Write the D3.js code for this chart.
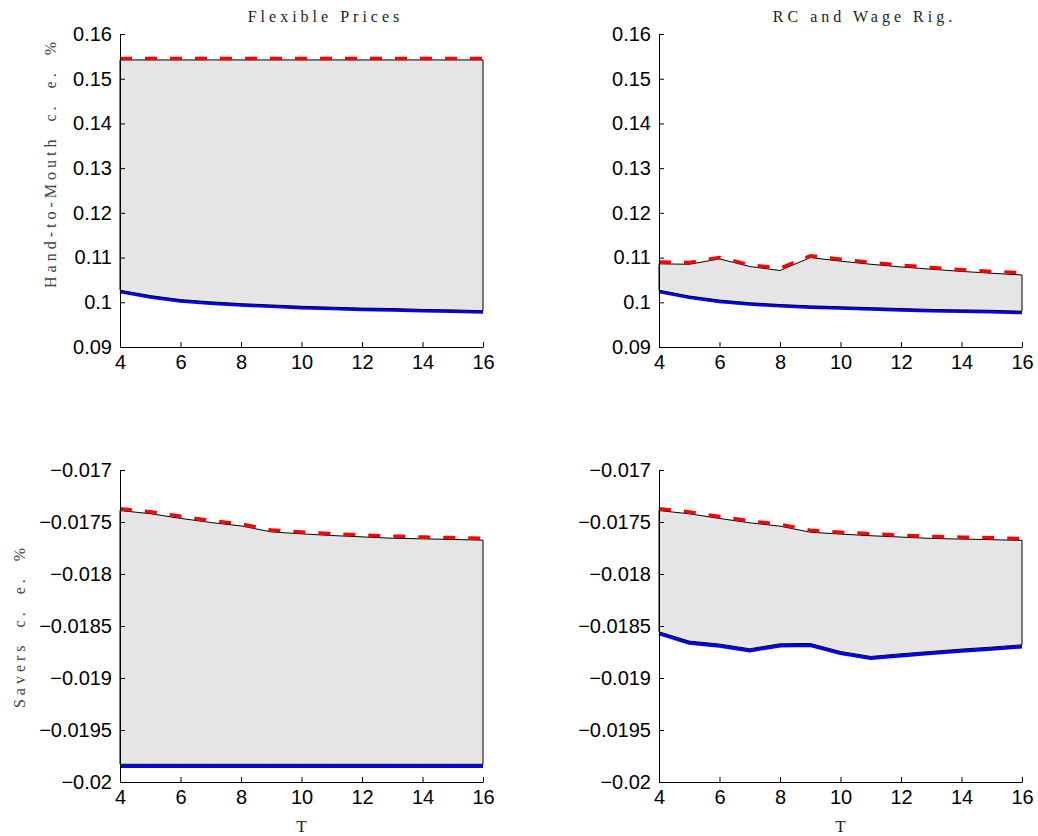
<!DOCTYPE html>
<html>
<head>
<meta charset="utf-8">
<script src="https://cdn.jsdelivr.net/npm/d3@7"></script>
<style>
  body { margin: 0; background: #fff; }
  .tick text { font-family: 'Liberation Sans', Arial, sans-serif; font-size: 20px; fill: #000; }
  .tick line, .domain { stroke: #000; stroke-width: 1; }
  .title, .xlabel, .ylabel { font-family: 'Liberation Serif', 'DejaVu Serif', serif; }
</style>
</head>
<body>
<svg id="chart" width="1038" height="836"></svg>
<script>
const T = [4, 5, 6, 7, 8, 9, 10, 11, 12, 13, 14, 15, 16]
const xTicks = [4, 6, 8, 10, 12, 14, 16]

// Hand-to-Mouth c. e. %, flexible prices
const htmFlexUpper = [0.1545, 0.1545, 0.1545, 0.1545, 0.1545, 0.1545, 0.1545, 0.1545, 0.1545, 0.1545, 0.1545, 0.1545, 0.1545]
const htmFlexFillTop = [0.1542, 0.1542, 0.1542, 0.1542, 0.1542, 0.1542, 0.1542, 0.1542, 0.1542, 0.1542, 0.1542, 0.1542, 0.1542]
const htmFlexFillBottom = [0.1027, 0.1015, 0.1006, 0.1001, 0.0997, 0.0994, 0.0991, 0.0989, 0.0987, 0.0986, 0.0984, 0.0983, 0.0981]
const htmFlexLower = [0.1024, 0.1012, 0.1003, 0.0998, 0.0994, 0.0991, 0.0988, 0.0986, 0.0984, 0.0983, 0.0981, 0.0980, 0.0978]

// Hand-to-Mouth c. e. %, RC and wage rigidity
const htmRigUpper = [0.1090, 0.1089, 0.1100, 0.1084, 0.1076, 0.1104, 0.1096, 0.1089, 0.1083, 0.1078, 0.1073, 0.1069, 0.1066]
const htmRigFillTop = [0.1086, 0.1085, 0.1097, 0.1080, 0.1071, 0.1100, 0.1092, 0.1085, 0.1079, 0.1074, 0.1069, 0.1065, 0.1061]
const htmRigFillBottom = [0.1027, 0.1014, 0.1005, 0.0999, 0.0995, 0.0992, 0.0990, 0.0988, 0.0986, 0.0984, 0.0983, 0.0982, 0.0980]
const htmRigLower = [0.1024, 0.1011, 0.1002, 0.0996, 0.0992, 0.0989, 0.0987, 0.0985, 0.0983, 0.0981, 0.0980, 0.0979, 0.0977]

// Savers c. e. %, flexible prices
const savFlexUpper = [-0.017372, -0.017401, -0.017445, -0.017487, -0.017519, -0.017577, -0.017596, -0.017612, -0.017625, -0.017638, -0.017644, -0.017650, -0.017657]
const savFlexFillTop = [-0.017390, -0.017420, -0.017465, -0.017505, -0.017538, -0.017595, -0.017614, -0.017630, -0.017643, -0.017656, -0.017662, -0.017668, -0.017675]
const savFlexFillBottom = [-0.01983, -0.01983, -0.01983, -0.01983, -0.01983, -0.01983, -0.01983, -0.01983, -0.01983, -0.01983, -0.01983, -0.01983, -0.01983]
const savFlexLower = [-0.019849, -0.019849, -0.019849, -0.019849, -0.019849, -0.019849, -0.019849, -0.019849, -0.019849, -0.019849, -0.019849, -0.019849, -0.019849]

// Savers c. e. %, RC and wage rigidity
const savRigUpper = [-0.017372, -0.017403, -0.017448, -0.017490, -0.017522, -0.017580, -0.017598, -0.017614, -0.017627, -0.017640, -0.017646, -0.017652, -0.017659]
const savRigFillTop = [-0.017390, -0.017421, -0.017466, -0.017508, -0.017540, -0.017598, -0.017616, -0.017632, -0.017645, -0.017658, -0.017664, -0.017670, -0.017677]
const savRigFillBottom = [-0.018556, -0.018645, -0.018674, -0.018719, -0.018671, -0.018668, -0.018745, -0.018793, -0.018767, -0.018745, -0.018722, -0.018703, -0.018681]
const savRigLower = [-0.018574, -0.018663, -0.018692, -0.018737, -0.018689, -0.018686, -0.018763, -0.018811, -0.018785, -0.018763, -0.018740, -0.018721, -0.018699]

const htmTicks = [0.09, 0.10, 0.11, 0.12, 0.13, 0.14, 0.15, 0.16]
const htmTickLabels = ['0.09', '0.1', '0.11', '0.12', '0.13', '0.14', '0.15', '0.16']
const savTicks = [-0.02, -0.0195, -0.019, -0.0185, -0.018, -0.0175, -0.017]
const savTickLabels = ['\u22120.02', '\u22120.0195', '\u22120.019', '\u22120.0185', '\u22120.018', '\u22120.0175', '\u22120.017']

const titles = ['Flexible Prices', 'RC and Wage Rig.']
const yLabels = ['Hand-to-Mouth c. e. %', 'Savers c. e. %']
const xLabel = 'T'

const svg = d3.select('#chart')

const cols = [{ x0: 120, x1: 483 }, { x0: 659, x1: 1022 }]
const rows = [
  { y0: 34, y1: 347, domain: [0.09, 0.16], ticks: htmTicks, labels: htmTickLabels },
  { y0: 470, y1: 782, domain: [-0.02, -0.017], ticks: savTicks, labels: savTickLabels }
]

const panels = [
  { r: 0, c: 0, upper: htmFlexUpper, top: htmFlexFillTop, bottom: htmFlexFillBottom, lower: htmFlexLower },
  { r: 0, c: 1, upper: htmRigUpper, top: htmRigFillTop, bottom: htmRigFillBottom, lower: htmRigLower },
  { r: 1, c: 0, upper: savFlexUpper, top: savFlexFillTop, bottom: savFlexFillBottom, lower: savFlexLower },
  { r: 1, c: 1, upper: savRigUpper, top: savRigFillTop, bottom: savRigFillBottom, lower: savRigLower }
]

panels.forEach(p => {
  const col = cols[p.c]
  const row = rows[p.r]
  const x = d3.scaleLinear().domain([4, 16]).range([col.x0, col.x1])
  const y = d3.scaleLinear().domain(row.domain).range([row.y1, row.y0])
  const g = svg.append('g')

  const area = d3.area()
    .x((d, i) => x(T[i]))
    .y0((d, i) => y(p.bottom[i]))
    .y1((d, i) => y(p.top[i]))
  const line = d3.line().x((d, i) => x(T[i])).y(d => y(d))

  g.append('path')
    .datum(p.lower)
    .attr('d', line)
    .attr('fill', 'none')
    .attr('stroke', '#0000ff')
    .attr('stroke-width', 3.5)

  g.append('path')
    .datum(T)
    .attr('d', area)
    .attr('fill', '#e5e5e5')
    .attr('stroke', '#000')
    .attr('stroke-width', 1)

  g.append('path')
    .datum(p.upper)
    .attr('d', line)
    .attr('fill', 'none')
    .attr('stroke', '#ff0000')
    .attr('stroke-width', 3.5)
    .attr('stroke-dasharray', '12,13')

  const yAxis = d3.axisLeft(y)
    .tickValues(row.ticks)
    .tickFormat((t, i) => row.labels[i])
    .tickSizeInner(-5)
    .tickSizeOuter(0)
    .tickPadding(8)
  g.append('g')
    .attr('transform', `translate(${col.x0}, 0)`)
    .call(yAxis)

  const xAxis = d3.axisBottom(x)
    .tickValues(xTicks)
    .tickFormat(d3.format('d'))
    .tickSizeInner(-5)
    .tickSizeOuter(0)
    .tickPadding(8)
  g.append('g')
    .attr('transform', `translate(0, ${row.y1})`)
    .call(xAxis)

  if (p.r === 0) {
    g.append('text')
      .attr('class', 'title')
      .attr('x', (col.x0 + col.x1) / 2 + 24)
      .attr('y', 22)
      .attr('text-anchor', 'middle')
      .attr('font-size', 16)
      .attr('letter-spacing', 4)
      .attr('fill', '#222')
      .text(titles[p.c])
  } else {
    g.append('text')
      .attr('class', 'xlabel')
      .attr('x', (col.x0 + col.x1) / 2)
      .attr('y', 832)
      .attr('text-anchor', 'middle')
      .attr('font-size', 17)
      .attr('fill', '#222')
      .text(xLabel)
  }

  if (p.c === 0) {
    const lx = p.r === 0 ? 56 : 25
    const ly = p.r === 0 ? 163 : 626
    g.append('text')
      .attr('class', 'ylabel')
      .attr('transform', `translate(${lx}, ${ly}) rotate(-90)`)
      .attr('text-anchor', 'middle')
      .attr('font-size', 16)
      .attr('letter-spacing', 4)
      .attr('word-spacing', 6)
      .attr('fill', '#444')
      .text(yLabels[p.r])
  }
})
</script>
</body>
</html>
